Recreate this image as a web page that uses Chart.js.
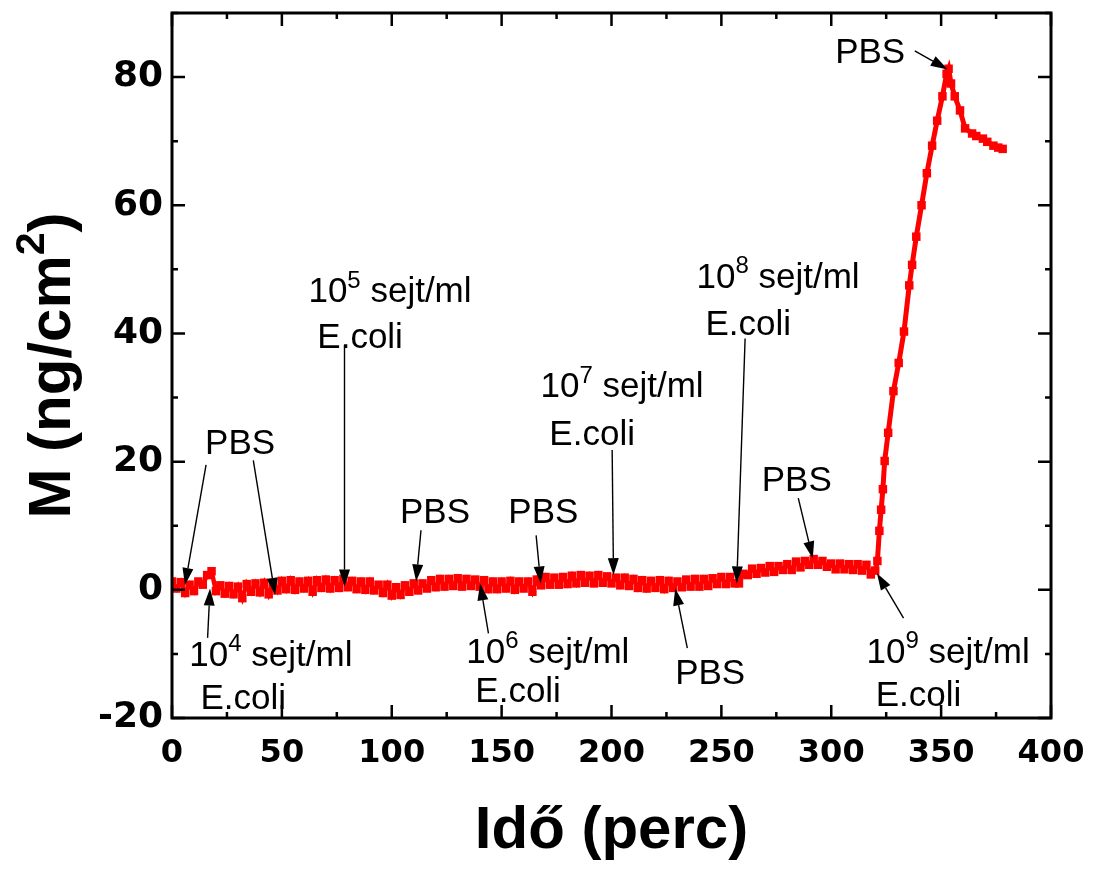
<!DOCTYPE html>
<html>
<head>
<meta charset="utf-8">
<script src="https://cdn.jsdelivr.net/npm/chart.js@4.4.0/dist/chart.umd.min.js"></script>
<style>
  html, body { margin: 0; padding: 0; background: #fff; }
</style>
</head>
<body>
<canvas id="qcm" width="1094" height="873"></canvas>
<script>
// time (perc) and adsorbed mass (ng/cm2)
const timeMin = [
  0, 2, 4, 6, 8, 10, 12, 14, 16, 18, 20, 22, 24, 26, 28, 30, 32, 34, 36, 38,
  40, 42, 44, 46, 48, 50, 52, 54, 56, 58, 60, 62, 64, 66, 68, 70, 72, 74, 76, 78,
  80, 82, 84, 86, 88, 90, 92, 94, 96, 98, 100, 102, 104, 106, 108, 110, 112, 114, 116, 118,
  120, 122, 124, 126, 128, 130, 132, 134, 136, 138, 140, 142, 144, 146, 148, 150, 152, 154, 156, 158,
  160, 162, 164, 166, 168, 170, 172, 174, 176, 178, 180, 182, 184, 186, 188, 190, 192, 194, 196, 198,
  200, 202, 204, 206, 208, 210, 212, 214, 216, 218, 220, 222, 224, 226, 228, 230, 232, 234, 236, 238,
  240, 242, 244, 246, 248, 250, 252, 254, 256, 258, 260, 262, 264, 266, 268, 270, 272, 274, 276, 278,
  280, 282, 284, 286, 288, 290, 292, 294, 296, 298, 300, 302, 304, 306, 308, 310, 312, 314, 316, 318,
  320, 321, 321.9, 322.7, 323.5, 324.3, 325.9, 328.3, 330.7, 333.1, 335.5, 336.8, 338.7, 341.1, 343.5,
  345.9, 348.2, 350.6, 352.5, 353.4, 354.5, 356.2, 358.6, 360.9, 364.1, 366, 369, 371, 373.8, 376, 378
];
const massNg = [
  1.3, 0.2, 1.2, -0.5, 0.8, -0.2, 1.3, 0.8, 2.3, 2.9, -0.2, 0.7, -0.6, 0.6, -0.7, 0.5, -1.3, 0.9, -0.3, 1.0,
  -0.4, 1.1, -0.7, 1.1, -0.1, 1.4, 0.1, 1.5, 0.0, 1.3, 0.2, 1.4, -0.3, 1.5, 0.3, 1.6, 0.2, 1.5, 0.3, 1.7,
  0.4, 1.4, 0.1, 1.3, 0.0, 1.3, -0.1, 0.8, -0.5, 0.8, -0.9, 0.4, -0.8, 0.7, -0.3, 1.0, -0.1, 1.0, 0.2, 1.5,
  0.4, 1.7, 0.5, 1.7, 0.6, 1.8, 0.5, 1.7, 0.6, 1.6, 0.5, 1.5, 0.1, 1.3, 0.1, 1.3, 0.2, 1.4, 0.0, 1.3,
  0.2, 1.3, -0.3, 1.6, 0.7, 2.0, 0.8, 1.9, 0.8, 2.0, 0.9, 2.2, 1.0, 2.3, 1.1, 2.2, 1.0, 2.3, 1.1, 2.1,
  1.0, 1.9, 0.7, 1.9, 0.6, 1.7, 0.3, 1.5, 0.2, 1.4, 0.3, 1.5, 0.1, 1.4, 0.3, 1.3, 0.4, 1.6, 0.5, 1.7,
  0.5, 1.7, 0.6, 1.8, 0.9, 2.0, 0.9, 2.0, 1.0, 1.0, 2.5, 2.3, 3.3, 2.5, 3.4, 2.7, 3.7, 2.8, 3.7, 3.1,
  4.0, 3.1, 4.4, 3.5, 4.5, 3.9, 4.8, 3.9, 4.5, 3.6, 4.1, 3.2, 4.1, 3.2, 4.0, 3.1, 4.0, 3.0, 3.9, 2.4,
  3.0, 4.5, 9.2, 12.5, 15.7, 20.1, 24.5, 31, 35.4, 40.3, 47.5, 50.7, 55.1, 60, 65,
  69.3, 73.2, 77, 80.5, 81.3, 79, 77, 74.8, 72, 71.2, 70.8, 70.4, 69.9, 69.3, 69, 68.8
];
const xTicks = [0, 50, 100, 150, 200, 250, 300, 350, 400];
const yTicks = [-20, 0, 20, 40, 60, 80];

// annotations: label lines (centre in data units) and arrows (from -> to)
const labels = [
  { x: 31, y: 23.2, t: 'PBS' },
  { x: 45, y: -9.9, t: '10^4 sejt/ml' }, { x: 32.4, y: -16.7, t: 'E.coli' },
  { x: 99.2, y: 46.8, t: '10^5 sejt/ml' }, { x: 85.6, y: 39.7, t: 'E.coli' },
  { x: 119.7, y: 12.4, t: 'PBS' },
  { x: 169, y: 12.4, t: 'PBS' },
  { x: 171, y: -9.4, t: '10^6 sejt/ml' }, { x: 157.5, y: -15.6, t: 'E.coli' },
  { x: 204.8, y: 32, t: '10^7 sejt/ml' }, { x: 191.2, y: 24.6, t: 'E.coli' },
  { x: 275.8, y: 49.1, t: '10^8 sejt/ml' }, { x: 262.2, y: 41.8, t: 'E.coli' },
  { x: 244.9, y: -12.8, t: 'PBS' },
  { x: 284.3, y: 17.4, t: 'PBS' },
  { x: 353.2, y: -9.4, t: '10^9 sejt/ml' }, { x: 339.7, y: -16.1, t: 'E.coli' },
  { x: 317.7, y: 84.2, t: 'PBS' }
];
const arrows = [
  [15.5, 19.5, 5.9, 0.75], [37, 20.2, 46.9, -0.8], [16.2, -7.5, 17.3, 0.2],
  [78.5, 38.2, 78.5, 0.5], [113.3, 9.3, 111.1, 1.3], [165.7, 8.5, 167.8, 1.0],
  [144, -6.8, 140.2, 1.0], [200.3, 21.8, 200.9, 2.3], [260.8, 39.2, 257, 1.0],
  [234.5, -9.1, 229, 0.2], [285, 14.3, 291.6, 4.9], [332.9, -4.4, 320.8, 2.6],
  [338, 84.1, 353, 81.2]
];

const ARIAL = '"Liberation Sans", Arial, sans-serif';

// draws text like "10^4 sejt/ml" centred on (cx, cy)
function richText(ctx, str, cx, cy, size, weight) {
  const parts = str.split(/\^(\d)/).map((t, i) => ({ t, sup: i % 2 === 1 }));
  const font = p => `${weight} ${p.sup ? Math.round(size * 0.68) : size}px ${ARIAL}`;
  let w = 0;
  parts.forEach(p => { ctx.font = font(p); p.w = ctx.measureText(p.t).width; w += p.w; });
  let x = cx - w / 2;
  const base = cy + size * 0.36;
  ctx.textAlign = 'left';
  ctx.textBaseline = 'alphabetic';
  parts.forEach(p => {
    ctx.font = font(p);
    ctx.fillText(p.t, x, p.sup ? base - size * 0.42 : base);
    x += p.w;
  });
}

function arrow(ctx, x1, y1, x2, y2) {
  const ang = Math.atan2(y2 - y1, x2 - x1);
  const len = 17, half = 5.5;
  const bx = x2 - len * Math.cos(ang), by = y2 - len * Math.sin(ang);
  ctx.lineWidth = 1.4;
  ctx.beginPath(); ctx.moveTo(x1, y1); ctx.lineTo(bx, by); ctx.stroke();
  ctx.beginPath();
  ctx.moveTo(x2, y2);
  ctx.lineTo(bx + half * Math.sin(ang), by - half * Math.cos(ang));
  ctx.lineTo(bx - half * Math.sin(ang), by + half * Math.cos(ang));
  ctx.closePath(); ctx.fill();
}

const decor = {
  id: 'decor',
  afterDraw(chart) {
    const { ctx, chartArea: a, scales: { x, y } } = chart;
    ctx.save();
    ctx.strokeStyle = '#000';
    ctx.fillStyle = '#000';

    // box + inward ticks on all four sides
    ctx.lineWidth = 3;
    ctx.strokeRect(a.left, a.top, a.right - a.left, a.bottom - a.top);
    ctx.lineWidth = 2.5;
    ctx.beginPath();
    for (let v = 0; v <= 400; v += 25) {
      const px = x.getPixelForValue(v), l = v % 50 === 0 ? 13 : 6;
      ctx.moveTo(px, a.bottom); ctx.lineTo(px, a.bottom - l);
      ctx.moveTo(px, a.top); ctx.lineTo(px, a.top + l);
    }
    for (let v = -20; v <= 90; v += 10) {
      const py = y.getPixelForValue(v), l = v % 20 === 0 ? 13 : 6;
      ctx.moveTo(a.left, py); ctx.lineTo(a.left + l, py);
      ctx.moveTo(a.right, py); ctx.lineTo(a.right - l, py);
    }
    ctx.stroke();

    // annotations
    labels.forEach(l => richText(ctx, l.t, x.getPixelForValue(l.x), y.getPixelForValue(l.y), 35, 'normal'));
    arrows.forEach(r => arrow(ctx, x.getPixelForValue(r[0]), y.getPixelForValue(r[1]),
                                   x.getPixelForValue(r[2]), y.getPixelForValue(r[3])));

    // axis titles
    richText(ctx, 'Idő (perc)', (a.left + a.right) / 2, a.bottom + 108, 60, 'bold');
    ctx.translate(48, (a.top + a.bottom) / 2);
    ctx.rotate(-Math.PI / 2);
    richText(ctx, 'M (ng/cm^2)', 0, 0, 60, 'bold');
    ctx.restore();
  }
};

const points = timeMin.map((t, i) => ({ x: t, y: massNg[i] }));
const riseStart = timeMin.indexOf(320);

new Chart(document.getElementById('qcm'), {
  type: 'line',
  data: {
    datasets: [{
      data: points,
      borderColor: '#ff0000',
      backgroundColor: '#ff0000',
      borderWidth: 5,
      segment: { borderWidth: c => (c.p0DataIndex >= riseStart ? 5 : 4.5) },
      pointStyle: 'rect',
      pointRadius: 6,
      pointBorderWidth: 0,
      tension: 0
    }]
  },
  options: {
    responsive: false,
    animation: false,
    devicePixelRatio: 1,
    layout: { autoPadding: false, padding: { top: 13, right: 43, left: 0, bottom: 0 } },
    plugins: { legend: { display: false }, tooltip: { enabled: false } },
    scales: {
      x: {
        type: 'linear', min: 0, max: 400,
        afterBuildTicks: s => { s.ticks = xTicks.map(v => ({ value: v })); },
        afterFit: s => { s.height = 155; s.paddingLeft = 0; s.paddingRight = 0; },
        grid: { display: false, drawTicks: false },
        border: { display: false },
        ticks: { color: '#000', padding: 16, maxRotation: 0,
                 font: { family: '"DejaVu Sans"', weight: 'bold', size: 32 } }
      },
      y: {
        type: 'linear', min: -20, max: 90,
        afterBuildTicks: s => { s.ticks = yTicks.map(v => ({ value: v })); },
        afterFit: s => { s.width = 172; s.paddingTop = 0; s.paddingBottom = 0; },
        grid: { display: false, drawTicks: false },
        border: { display: false },
        ticks: { color: '#000', padding: 9,
                 font: { family: '"DejaVu Sans"', weight: 'bold', size: 36 } }
      }
    }
  },
  plugins: [decor]
});
</script>
</body>
</html>
